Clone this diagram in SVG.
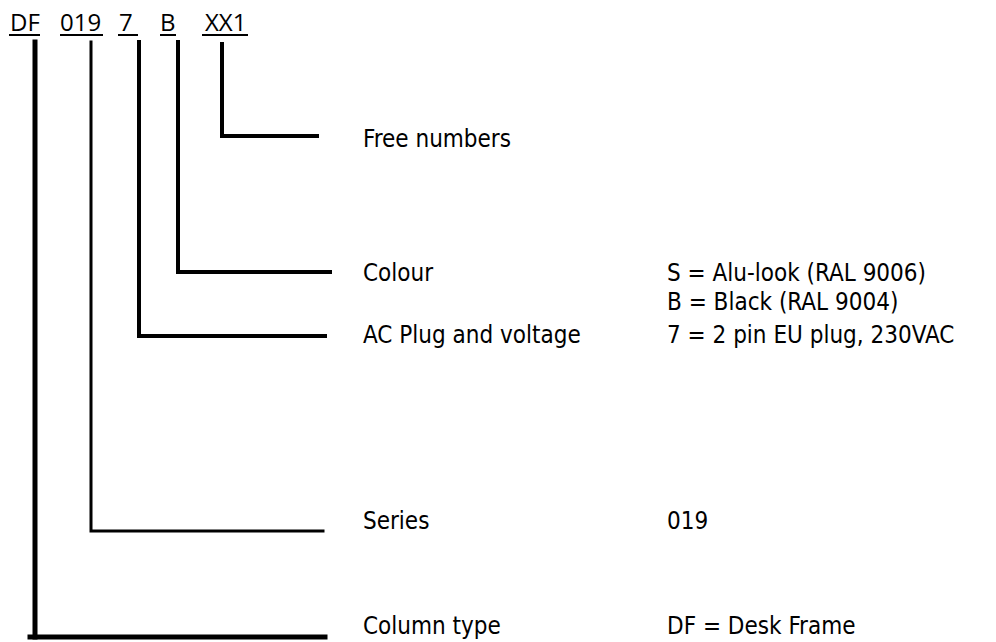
<svg xmlns="http://www.w3.org/2000/svg" width="996" height="642" viewBox="0 0 996 642">
<style>
.code{font-family:"Open Sans","Liberation Sans",sans-serif;font-size:24px;fill:#000}
.lbl{font-family:"DejaVu Sans Condensed","DejaVu Sans",sans-serif;font-stretch:condensed;font-size:24px;fill:#000}
.ul{stroke:#000;stroke-width:2}
.ln{fill:none;stroke:#000;stroke-width:4;stroke-linecap:square}
</style>
<rect width="996" height="642" fill="#fff"/>
<g id="code">
<text class="code" x="10" y="31">DF</text>
<text class="code" x="60" y="31">019</text>
<text class="code" x="119" y="31">7</text>
<text class="code" x="160" y="31">B</text>
<text class="code" x="205" y="31">XX1</text>
<line class="ul" x1="9" y1="35" x2="40" y2="35"/>
<line class="ul" x1="60" y1="35" x2="103" y2="35"/>
<line class="ul" x1="118" y1="35" x2="138" y2="35"/>
<line class="ul" x1="160" y1="35" x2="176" y2="35"/>
<line class="ul" x1="202" y1="35" x2="248" y2="35"/>
</g>
<g id="connectors">
<path class="ln" d="M222,44 V136 H317"/>
<path class="ln" d="M178,42 V272 H330"/>
<path class="ln" d="M139,42 V336 H325"/>
<path class="ln" d="M91,42 V531 H323" style="stroke-width:3"/>
<path class="ln" d="M35,42 V637" style="stroke-width:5"/>
<path class="ln" d="M30,637 H325" style="stroke-width:5"/>
</g>
<g id="free">
<text class="lbl" x="363" y="147">Free numbers</text>
</g>
<g id="colour">
<text class="lbl" x="363" y="281">Colour</text>
<text class="lbl" x="667" y="281">S = Alu-look (RAL 9006)</text>
<text class="lbl" x="667" y="310">B = Black (RAL 9004)</text>
</g>
<g id="ac">
<text class="lbl" x="363" y="343">AC Plug and voltage</text>
<text class="lbl" x="667" y="343">7 = 2 pin EU plug, 230VAC</text>
</g>
<g id="series">
<text class="lbl" x="363" y="529">Series</text>
<text class="lbl" x="667" y="529">019</text>
</g>
<g id="column">
<text class="lbl" x="363" y="634">Column type</text>
<text class="lbl" x="667" y="634">DF = Desk Frame</text>
</g>
</svg>
